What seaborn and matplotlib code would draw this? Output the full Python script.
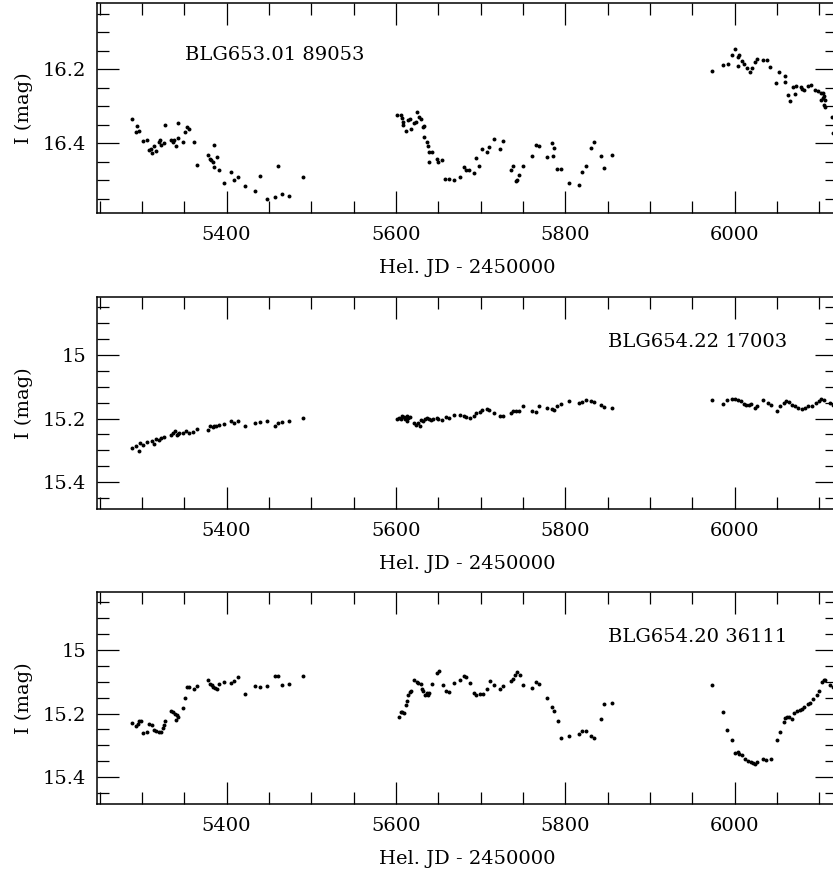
import matplotlib
matplotlib.use("Agg")
import matplotlib.pyplot as plt
from matplotlib.ticker import MultipleLocator, FuncFormatter
import seaborn as sns
import pandas as pd

# ---------------- data ----------------
# Panel 1: BLG653.01 89053
p1_jd = [5287.8, 5294.1, 5293.2, 5296.4, 5301.1, 5306.2, 5307.9, 5310.2, 5314.1, 5312.1,
         5316.5, 5320.0, 5321.2, 5322.8, 5325.9, 5327.5, 5334.2, 5336.2, 5338.1, 5340.5,
         5342.1, 5342.8, 5348.4, 5350.4, 5353.1, 5355.5, 5361.4, 5364.9, 5377.9, 5379.9,
         5381.8, 5384.2, 5385.0, 5388.2, 5385.0, 5391.3, 5397.2, 5405.4, 5409.0, 5413.0,
         5422.0, 5433.1, 5439.3, 5447.2, 5457.4, 5460.6, 5465.3, 5473.2, 5490.1,
         5601.5, 5605.5, 5606.7, 5607.9, 5608.6, 5611.8, 5614.5, 5616.5, 5617.3, 5621.6,
         5623.6, 5624.7, 5627.5, 5629.5, 5632.2, 5633.8, 5632.7, 5636.2, 5637.4, 5639.3,
         5642.1, 5638.9, 5648.0, 5649.9, 5654.6, 5658.6, 5662.9, 5668.8, 5675.5, 5680.3,
         5683.4, 5686.5, 5692.4, 5695.2, 5697.6, 5702.3, 5707.1, 5709.8, 5716.0, 5723.1,
         5726.0, 5735.8, 5737.8, 5741.3, 5743.2, 5746.0, 5749.9, 5760.9, 5765.6, 5768.8,
         5778.3, 5784.5, 5786.2, 5785.0, 5790.4, 5795.2, 5803.9, 5816.1, 5820.0, 5824.7,
         5829.9, 5834.2, 5842.0, 5846.0, 5855.4,
         5972.8, 5985.8, 5991.7, 5996.8, 6001.1, 6003.9, 6005.0, 6004.2, 6008.6, 6011.7,
         6014.8, 6017.7, 6020.7, 6023.6, 6026.6, 6033.4, 6038.4, 6042.0, 6049.5, 6052.6,
         6059.0, 6059.7, 6063.3, 6065.7, 6068.5, 6071.2, 6072.7, 6077.9, 6079.8, 6082.2,
         6086.9, 6090.1, 6094.8, 6098.0, 6101.9, 6104.2, 6105.4, 6104.6, 6101.9, 6106.6,
         6105.4, 6107.0, 6114.9, 6115.7]
p1_mag = [16.334, 16.354, 16.369, 16.367, 16.394, 16.390, 16.418, 16.414, 16.408, 16.427,
          16.421, 16.395, 16.390, 16.405, 16.398, 16.349, 16.392, 16.396, 16.390, 16.408,
          16.346, 16.386, 16.397, 16.370, 16.355, 16.362, 16.397, 16.458, 16.430, 16.441,
          16.446, 16.449, 16.405, 16.438, 16.463, 16.473, 16.506, 16.478, 16.500, 16.492,
          16.516, 16.529, 16.489, 16.551, 16.546, 16.461, 16.536, 16.541, 16.491,
          16.324, 16.324, 16.332, 16.342, 16.351, 16.367, 16.337, 16.335, 16.361, 16.346,
          16.343, 16.315, 16.330, 16.334, 16.355, 16.352, 16.382, 16.396, 16.407, 16.423,
          16.424, 16.451, 16.443, 16.451, 16.445, 16.496, 16.496, 16.499, 16.490, 16.465,
          16.472, 16.472, 16.479, 16.440, 16.461, 16.415, 16.424, 16.409, 16.388, 16.414,
          16.394, 16.473, 16.461, 16.502, 16.500, 16.485, 16.462, 16.434, 16.404, 16.406,
          16.437, 16.400, 16.412, 16.434, 16.470, 16.469, 16.508, 16.512, 16.478, 16.462,
          16.412, 16.396, 16.435, 16.467, 16.432,
          16.204, 16.189, 16.185, 16.162, 16.144, 16.167, 16.161, 16.190, 16.178, 16.186,
          16.196, 16.208, 16.196, 16.179, 16.171, 16.176, 16.176, 16.195, 16.238, 16.207,
          16.217, 16.234, 16.268, 16.285, 16.248, 16.267, 16.244, 16.249, 16.253, 16.257,
          16.244, 16.242, 16.256, 16.259, 16.263, 16.265, 16.271, 16.278, 16.283, 16.283,
          16.297, 16.302, 16.329, 16.371]

# Panel 2: BLG654.22 17003
p2_jd = [5287.8, 5292.9, 5296.4, 5298.0, 5301.1, 5306.2, 5311.4, 5314.1, 5316.5, 5320.0,
         5322.8, 5325.6, 5334.2, 5336.9, 5338.6, 5340.9, 5342.5, 5344.0, 5348.4, 5352.3,
         5355.5, 5360.6, 5365.3, 5377.9, 5380.6, 5384.2, 5385.4, 5387.7, 5391.3, 5397.2,
         5405.1, 5409.0, 5413.0, 5422.0, 5433.1, 5439.3, 5447.2, 5457.4, 5460.2, 5465.3,
         5473.2, 5490.1,
         5601.9, 5603.8, 5605.5, 5607.4, 5609.4, 5610.6, 5612.6, 5614.5, 5616.5, 5612.6,
         5621.6, 5623.6, 5626.3, 5628.3, 5629.5, 5632.2, 5634.2, 5636.9, 5638.9, 5640.9,
         5643.3, 5648.0, 5649.9, 5654.6, 5659.0, 5662.9, 5668.8, 5675.5, 5680.6, 5683.4,
         5687.3, 5692.4, 5695.2, 5699.1, 5702.3, 5707.1, 5709.8, 5716.0, 5722.8, 5726.7,
         5735.8, 5737.8, 5741.3, 5746.0, 5749.9, 5760.9, 5765.3, 5768.8, 5778.3, 5784.5,
         5786.2, 5790.4, 5795.2, 5803.9, 5816.1, 5820.0, 5824.7, 5829.9, 5834.2, 5842.0,
         5846.0, 5855.4,
         5973.5, 5985.8, 5991.2, 5996.4, 6000.3, 6004.2, 6008.2, 6010.9, 6014.1, 6016.5,
         6020.0, 6023.9, 6026.6, 6033.7, 6039.6, 6043.6, 6050.3, 6053.5, 6058.2, 6060.5,
         6064.4, 6067.3, 6071.2, 6075.1, 6079.1, 6083.0, 6086.9, 6090.9, 6096.0, 6099.2,
         6101.9, 6105.8, 6112.5, 6115.7]
p2_mag = [15.292, 15.287, 15.302, 15.278, 15.284, 15.273, 15.272, 15.279, 15.266, 15.267,
          15.260, 15.259, 15.251, 15.245, 15.240, 15.251, 15.248, 15.245, 15.245, 15.240,
          15.244, 15.243, 15.233, 15.235, 15.222, 15.227, 15.224, 15.222, 15.221, 15.218,
          15.208, 15.213, 15.207, 15.224, 15.213, 15.212, 15.209, 15.222, 15.213, 15.212,
          15.209, 15.198,
          15.201, 15.198, 15.203, 15.191, 15.196, 15.203, 15.193, 15.198, 15.196, 15.208,
          15.213, 15.219, 15.213, 15.222, 15.206, 15.208, 15.201, 15.198, 15.201, 15.205,
          15.203, 15.198, 15.201, 15.206, 15.195, 15.198, 15.188, 15.188, 15.191, 15.195,
          15.198, 15.191, 15.184, 15.180, 15.172, 15.169, 15.174, 15.184, 15.191, 15.191,
          15.182, 15.177, 15.175, 15.175, 15.162, 15.175, 15.180, 15.162, 15.167, 15.169,
          15.174, 15.162, 15.153, 15.144, 15.151, 15.148, 15.142, 15.146, 15.147, 15.156,
          15.163, 15.167,
          15.141, 15.153, 15.143, 15.138, 15.138, 15.141, 15.146, 15.153, 15.158, 15.156,
          15.153, 15.167, 15.162, 15.141, 15.151, 15.156, 15.177, 15.162, 15.151, 15.144,
          15.148, 15.156, 15.162, 15.167, 15.170, 15.167, 15.162, 15.159, 15.151, 15.144,
          15.138, 15.143, 15.151, 15.157]

# Panel 3: BLG654.20 36111
p3_jd = [5287.8, 5292.9, 5294.9, 5296.8, 5298.8, 5301.1, 5306.2, 5307.9, 5312.1, 5314.5,
         5316.9, 5320.0, 5322.4, 5324.4, 5325.9, 5327.9, 5334.2, 5336.2, 5338.6, 5340.1,
         5341.7, 5342.8, 5348.4, 5350.4, 5352.8, 5355.5, 5361.0, 5365.3, 5377.9, 5379.9,
         5382.3, 5384.2, 5386.2, 5388.5, 5391.3, 5397.2, 5405.1, 5409.0, 5413.0, 5422.0,
         5433.1, 5439.3, 5447.2, 5457.4, 5460.6, 5465.3, 5473.2, 5490.1,
         5603.8, 5605.5, 5607.4, 5609.4, 5611.8, 5612.9, 5614.5, 5616.5, 5617.7, 5621.6,
         5624.4, 5626.3, 5629.1, 5631.0, 5632.2, 5634.2, 5636.2, 5638.1, 5639.7, 5642.8,
         5648.0, 5650.4, 5655.1, 5659.0, 5662.9, 5668.8, 5675.5, 5680.6, 5683.4, 5687.3,
         5692.4, 5695.2, 5699.1, 5703.0, 5707.1, 5711.0, 5716.0, 5722.8, 5726.7, 5735.8,
         5737.8, 5740.5, 5743.2, 5746.4, 5749.9, 5760.9, 5765.6, 5768.8, 5778.3, 5784.5,
         5786.5, 5790.9, 5795.2, 5803.9, 5816.1, 5820.0, 5824.7, 5830.2, 5834.1, 5842.0,
         5846.0, 5855.4,
         5973.5, 5985.8, 5991.2, 5996.4, 6000.3, 6003.5, 6005.4, 6008.9, 6012.9, 6016.0,
         6019.2, 6021.6, 6023.9, 6026.6, 6033.7, 6037.7, 6042.5, 6050.3, 6053.5, 6058.2,
         6059.0, 6061.4, 6064.4, 6067.3, 6070.3, 6073.9, 6077.1, 6079.1, 6082.6, 6086.9,
         6088.9, 6092.8, 6096.8, 6099.2, 6102.7, 6105.4, 6106.6, 6112.5, 6115.7]
p3_mag = [15.229, 15.240, 15.233, 15.224, 15.223, 15.260, 15.257, 15.233, 15.236, 15.251,
          15.254, 15.259, 15.257, 15.247, 15.236, 15.223, 15.193, 15.196, 15.201, 15.220,
          15.206, 15.212, 15.183, 15.150, 15.117, 15.117, 15.122, 15.112, 15.093, 15.106,
          15.111, 15.117, 15.118, 15.122, 15.108, 15.101, 15.103, 15.098, 15.086, 15.137,
          15.112, 15.115, 15.113, 15.082, 15.083, 15.109, 15.107, 15.083,
          15.212, 15.194, 15.196, 15.198, 15.172, 15.162, 15.141, 15.132, 15.128, 15.095,
          15.101, 15.103, 15.106, 15.124, 15.130, 15.141, 15.134, 15.143, 15.134, 15.107,
          15.071, 15.067, 15.111, 15.130, 15.132, 15.103, 15.095, 15.082, 15.086, 15.105,
          15.134, 15.143, 15.137, 15.137, 15.122, 15.098, 15.111, 15.122, 15.113, 15.098,
          15.090, 15.077, 15.069, 15.079, 15.111, 15.118, 15.101, 15.106, 15.151, 15.180,
          15.193, 15.224, 15.277, 15.272, 15.263, 15.256, 15.255, 15.270, 15.277, 15.217,
          15.170, 15.168,
          15.111, 15.196, 15.252, 15.283, 15.325, 15.321, 15.326, 15.331, 15.342, 15.351,
          15.352, 15.355, 15.358, 15.352, 15.342, 15.346, 15.342, 15.283, 15.259, 15.228,
          15.215, 15.212, 15.210, 15.217, 15.199, 15.191, 15.190, 15.185, 15.178, 15.169,
          15.166, 15.153, 15.141, 15.130, 15.101, 15.093, 15.095, 15.109, 15.115]

star_names = ["BLG653.01 89053", "BLG654.22 17003", "BLG654.20 36111"]
y_limits = [(16.588, 16.02), (15.485, 14.818), (15.485, 14.818)]
x_limits = (5247, 6121)
x_label = "Hel. JD - 2450000"
y_label = "I (mag)"

# ---------------- style ----------------
sns.set_style("ticks")
plt.rcParams["font.family"] = ["DejaVu Serif"]
plt.rcParams["font.size"] = 14
plt.rcParams["text.color"] = "black"
plt.rcParams["axes.labelcolor"] = "black"
plt.rcParams["xtick.color"] = "black"
plt.rcParams["ytick.color"] = "black"
plt.rcParams["xtick.labelcolor"] = "black"
plt.rcParams["ytick.labelcolor"] = "black"

fig = plt.figure(figsize=(8.33, 8.77), dpi=100)

left = 97 / 833
width = 740 / 833
panels = [
    (1 - 213 / 877, 210.3 / 877),
    (1 - 509 / 877, 211.7 / 877),
    (1 - 804 / 877, 211.7 / 877),
]
name_pos = [(0.119, 0.7275), (0.6905, 0.764), (0.6905, 0.764)]

series = [(p1_jd, p1_mag), (p2_jd, p2_mag), (p3_jd, p3_mag)]

for i, ((bottom, height), (jd, mag)) in enumerate(zip(panels, series)):
    ax = fig.add_axes([left, bottom, width, height])
    df = pd.DataFrame({"jd": jd, "mag": mag})
    sns.scatterplot(data=df, x="jd", y="mag", ax=ax, s=8, color="black",
                    linewidth=0, legend=False)
    ax.set_xlim(*x_limits)
    ax.set_ylim(*y_limits[i])
    ax.xaxis.set_major_locator(MultipleLocator(200))
    ax.xaxis.set_minor_locator(MultipleLocator(50))
    ax.yaxis.set_major_locator(MultipleLocator(0.2))
    ax.yaxis.set_minor_locator(MultipleLocator(0.05))
    ax.yaxis.set_major_formatter(FuncFormatter(lambda v, p: f"{v:g}"))
    ax.tick_params(which="both", direction="in", top=True, right=True,
                   labelsize=14, color="black", labelcolor="black", width=0.9)
    ax.tick_params(which="major", length=16)
    ax.tick_params(which="minor", length=8.3)
    ax.tick_params(axis="x", which="major", pad=9.5)
    ax.tick_params(axis="y", which="major", pad=8)
    for sp in ax.spines.values():
        sp.set_linewidth(1.1)
        sp.set_color("black")
    ax.set_xlabel(x_label, fontsize=14, color="black")
    ax.set_ylabel(y_label, fontsize=14, color="black")
    ax.xaxis.set_label_coords(0.5, -46 / 210)
    ax.yaxis.set_label_coords(-0.087, 0.5)
    ax.text(name_pos[i][0], name_pos[i][1], star_names[i], transform=ax.transAxes,
            ha="left", va="baseline", fontsize=14, color="black")

fig.savefig("out.png", dpi=100)
